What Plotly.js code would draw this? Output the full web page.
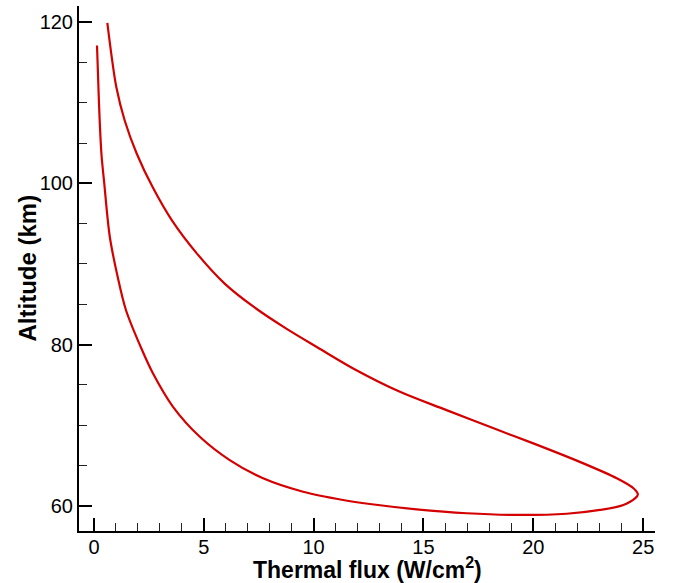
<!DOCTYPE html>
<html>
<head>
<meta charset="utf-8">
<script src="https://cdn.plot.ly/plotly-3.0.1.min.js"></script>
<style>html,body{margin:0;padding:0;background:#fff;}#chart{width:678px;height:583px;}</style>
</head>
<body>
<div id="chart"></div>
<script>
// Thermal flux (W/cm^2) along the trajectory, and altitude (km)
const thermalFlux = [0.14, 0.23, 0.34, 0.47, 0.72, 1.08, 1.46, 2.16, 2.69, 3.60, 4.82, 6.18, 7.70, 9.52, 11.34, 12.56, 14.69, 16.97, 19.24, 21.52, 23.04, 24.10, 24.63, 24.76, 24.56, 23.80, 22.28, 20.00, 18.40, 16.05, 13.93, 11.80, 10.20, 8.74, 7.28, 5.95, 4.69, 3.55, 2.67, 1.95, 1.40, 1.02, 0.79, 0.61];
const altitude    = [117.1, 109.9, 103.7, 100.0, 93.4, 88.4, 84.25, 79.5, 76.4, 72.27, 68.55, 65.66, 63.4, 61.73, 60.71, 60.21, 59.55, 59.06, 58.85, 59.0, 59.47, 60.09, 60.9, 61.4, 62.16, 63.4, 65.25, 67.73, 69.38, 71.86, 74.13, 77.03, 79.6, 82.0, 84.66, 87.56, 91.28, 95.4, 99.53, 103.67, 107.8, 111.92, 116.06, 119.9];
const xTicks = [0, 5, 10, 15, 20, 25];
const yTicks = [60, 80, 100, 120];

const trace = {
  x: thermalFlux, y: altitude, mode: 'lines', type: 'scatter',
  line: {color: '#d40000', width: 2.2, shape: 'spline', smoothing: 0.9},
  hoverinfo: 'none', showlegend: false
};

const FONT = 'Liberation Sans, Arial, sans-serif';
const axisCommon = {
  showgrid: false, zeroline: false, showline: true, linecolor: '#000', linewidth: 2,
  ticks: 'inside', ticklen: 13, tickwidth: 2, tickcolor: '#000',
  tickfont: {family: FONT, size: 20, color: '#000'},
  mirror: false
};

const layout = {
  width: 678, height: 583,
  margin: {l: 79, r: 23, t: 6, b: 52},
  paper_bgcolor: '#fff', plot_bgcolor: '#fff',
  xaxis: Object.assign({}, axisCommon, {
    range: [-0.68, 25.54], tickmode: 'array', tickvals: xTicks, ticktext: xTicks.map(String),
    ticklabelstandoff: -3,
    minor: {dtick: 1, tick0: 0, ticks: 'inside', ticklen: 8, tickwidth: 1, tickcolor: '#222'}
  }),
  yaxis: Object.assign({}, axisCommon, {
    range: [56.86, 122], tickmode: 'array', tickvals: yTicks, ticktext: yTicks.map(String),
    minor: {dtick: 5, tick0: 0, ticks: 'inside', ticklen: 8, tickwidth: 1, tickcolor: '#222'}
  }),
  annotations: [
    {text: 'Thermal flux (W/cm<sup>2</sup>)', xref: 'paper', yref: 'paper', x: 0.5, y: 0,
     xanchor: 'center', yanchor: 'middle', yshift: -37, showarrow: false,
     font: {family: FONT, size: 23, color: '#000', weight: 'bold'}},
    {text: 'Altitude (km)', xref: 'paper', yref: 'paper', x: 0, y: 0.5, textangle: -90,
     xanchor: 'center', yanchor: 'middle', xshift: -52, showarrow: false,
     font: {family: FONT, size: 24, color: '#000', weight: 'bold'}}
  ]
};

Plotly.newPlot('chart', [trace], layout, {displayModeBar: false, staticPlot: true});
</script>
</body>
</html>
